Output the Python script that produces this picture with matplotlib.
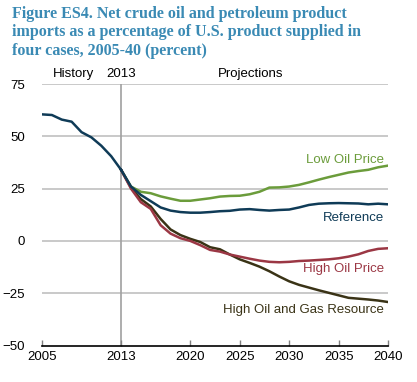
import matplotlib.pyplot as plt

years_hist = list(range(2005, 2014))
history = [60.5, 60.2, 58.0, 57.0, 52.0, 49.5, 45.5, 40.5, 34.0]

years_proj = list(range(2013, 2041))
reference = [34, 26, 22, 19, 16, 14.5, 13.8, 13.5, 13.5, 13.8, 14.2, 14.4, 15, 15.2,
             14.8, 14.5, 14.8, 15, 16, 17.2, 17.8, 18, 18.1, 18, 17.9, 17.5, 17.8, 17.5]
low_oil = [34, 26, 23.5, 22.8, 21.3, 20.2, 19.2, 19.2, 19.8, 20.4, 21.2, 21.5, 21.6, 22.3,
           23.5, 25.5, 25.6, 26, 26.8, 28, 29.3, 30.5, 31.6, 32.7, 33.4, 34, 35.2, 36]
high_oil = [34, 25, 18.5, 15.3, 7.5, 3.5, 1.3, 0, -2, -4.3, -5.1, -6.5, -7.5, -8.5,
            -9.4, -10, -10.2, -10, -9.6, -9.4, -9.1, -8.8, -8.3, -7.5, -6.4, -4.8, -3.8, -3.5]
high_resource = [34, 25.5, 20, 16.5, 10.5, 5.5, 2.8, 1, -0.5, -3, -4, -6.5, -8.8, -10.5,
                 -12.3, -14.5, -17, -19.3, -21, -22.3, -23.6, -24.8, -26, -27.2, -27.6, -28, -28.5, -29.2]

x_ticks = [2005, 2013, 2020, 2025, 2030, 2035, 2040]
y_ticks = [-50, -25, 0, 25, 50, 75]

c_ref = "#0f3b57"
c_low = "#6b9c3b"
c_high = "#9b3744"
c_res = "#3a3316"

plt.rcParams["font.family"] = "Liberation Sans"

fig = plt.figure(figsize=(4.17, 3.82), dpi=100)
ax = fig.add_axes([0.1007, 0.0955, 0.8298, 0.6845])

for y in y_ticks[1:]:
    ax.axhline(y, color="#c0c0c0", lw=1.2, zorder=1)
ax.axvline(2013, color="#a0a0a0", lw=1.2, zorder=1)

ax.plot(years_proj, low_oil, color=c_low, lw=1.8, zorder=3)
ax.plot(years_proj, high_resource, color=c_res, lw=1.8, zorder=3)
ax.plot(years_proj, high_oil, color=c_high, lw=1.8, zorder=3)
ax.plot(years_proj, reference, color=c_ref, lw=1.8, zorder=4)
ax.plot(years_hist, history, color=c_ref, lw=1.8, zorder=4)

ax.set_xlim(2005, 2040)
ax.set_ylim(-50, 75)
ax.set_xticks(x_ticks)
ax.set_yticks(y_ticks)
ax.tick_params(axis="x", direction="in", length=4, width=1, color="#808080",
               labelsize=9.5, pad=4)
ax.tick_params(axis="y", length=0, labelsize=9.5, pad=12)

for s in ["top", "right", "left"]:
    ax.spines[s].set_visible(False)
ax.spines["bottom"].set_color("black")
ax.spines["bottom"].set_linewidth(1.2)

ax.text(2039.6, 38.5, "Low Oil Price", color=c_low, ha="right", va="center", fontsize=9.5)
ax.text(2039.6, 10.8, "Reference", color=c_ref, ha="right", va="center", fontsize=9.5)
ax.text(2039.6, -13.6, "High Oil Price", color=c_high, ha="right", va="center", fontsize=9.5)
ax.text(2039.6, -32.8, "High Oil and Gas Resource", color=c_res, ha="right", va="center", fontsize=9.5)

ax.text(2006.1, 77, "History", ha="left", va="bottom", fontsize=9.5)
ax.text(2013.0, 77, "2013", ha="center", va="bottom", fontsize=9.5)
ax.text(2022.8, 77, "Projections", ha="left", va="bottom", fontsize=9.5)

fig.text(0.029, 0.985,
         "Figure ES4. Net crude oil and petroleum product\n"
         "imports as a percentage of U.S. product supplied in\n"
         "four cases, 2005-40 (percent)",
         ha="left", va="top", fontsize=11.5, fontweight="bold", color="#3a8ab4",
         family="Liberation Serif", linespacing=1.2)

fig.savefig("out.png", dpi=100)
